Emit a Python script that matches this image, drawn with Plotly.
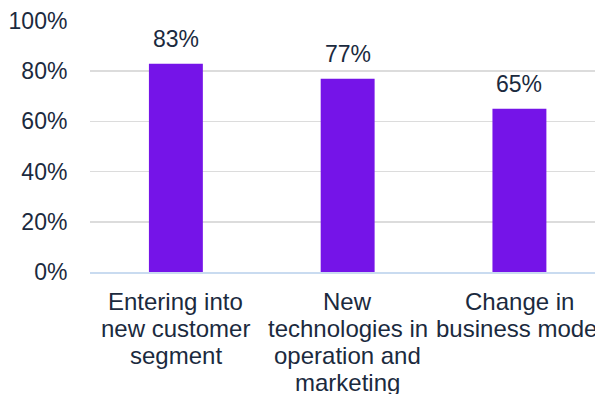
import plotly.graph_objects as go

categories = ["Entering into\nnew customer\nsegment",
              "New\ntechnologies in\noperation and\nmarketing",
              "Change in\nbusiness model"]
values = [83, 77, 65]
value_labels = ["83%", "77%", "65%"]
y_ticks = [0, 20, 40, 60, 80, 100]
y_tick_labels = ["0%", "20%", "40%", "60%", "80%", "100%"]

text_color = "#1b2a3e"
font_family = "Liberation Sans, Arial, sans-serif"
fsize = 23

x_pos = list(range(len(categories)))

fig = go.Figure(go.Bar(
    x=x_pos,
    y=values,
    marker=dict(color="#7514E8", line=dict(width=0)),
    width=0.314,
    hoverinfo="skip",
))

annotations = []
# value labels above bars
for xi, v, lab in zip(x_pos, values, value_labels):
    annotations.append(dict(
        x=xi, y=v, xref="x", yref="y", text=lab, showarrow=False,
        yanchor="middle", xanchor="center", yshift=24.5,
        font=dict(size=fsize, color=text_color, family=font_family),
    ))
# category labels under axis (tight line spacing as in reference)
for xi, cat in zip(x_pos, categories):
    for j, line in enumerate(cat.split("\n")):
        annotations.append(dict(
            x=xi, y=0, xref="x", yref="y", text=line, showarrow=False,
            yanchor="middle", xanchor="center", yshift=-(29.7 + 27 * j),
            font=dict(size=24, color=text_color, family=font_family),
        ))

fig.update_layout(
    width=595, height=394,
    margin=dict(l=90, r=0, t=21, b=122),
    paper_bgcolor="white", plot_bgcolor="white",
    showlegend=False,
    font=dict(family=font_family, size=fsize, color=text_color),
    annotations=annotations,
    xaxis=dict(
        range=[-0.5, 2.44],
        showgrid=False,
        showline=True, linecolor="#c9dbf0", linewidth=1.5,
        ticks="", showticklabels=False,
        zeroline=False, automargin=False, fixedrange=True,
    ),
    yaxis=dict(
        range=[0, 100],
        tickmode="array",
        tickvals=y_ticks,
        ticktext=y_tick_labels,
        showgrid=True, gridcolor="#dcdcdc", gridwidth=1.5,
        zeroline=False,
        ticks="outside", ticklen=17, tickcolor="rgba(0,0,0,0)",
        tickfont=dict(size=fsize, color=text_color, family=font_family),
        showline=False, automargin=False, fixedrange=True,
    ),
)

# remove the browser's default 8px body margin so the figure fills the window
fig.write_html("out.html",
               config={"displayModeBar": False, "staticPlot": True},
               post_script="document.body.style.margin='0';document.body.style.overflow='hidden';")
